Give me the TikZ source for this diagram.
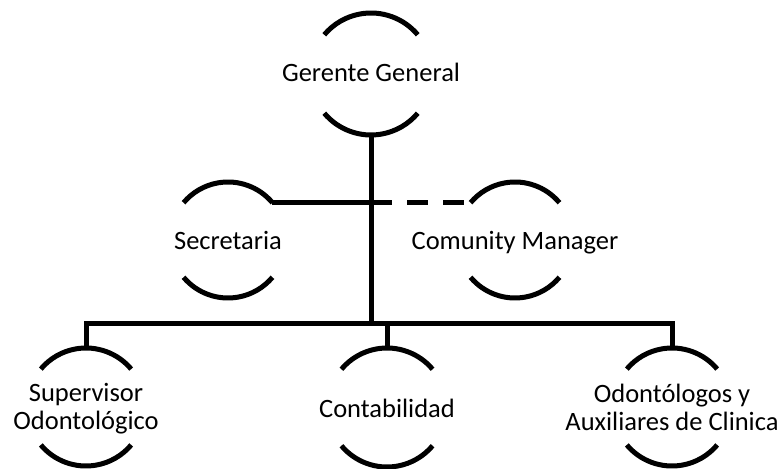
\documentclass[tikz,border=0pt]{standalone}
\usepackage{fontspec}
\setmainfont{Carlito}
\begin{document}
\begin{tikzpicture}[x=1pt,y=1pt,
  ring/.style={circle, draw=none, inner sep=0pt, outer sep=0pt, minimum size=#1},
  lbl/.style={font=\fontsize{26.5}{28}\selectfont, align=center, inner sep=0pt, anchor=base},
  conn/.style={line width=5pt, line join=miter, black},
  arcline/.style={line width=5pt, black}]
\useasboundingbox (0,0) rectangle (783,468);
% rings
\node[ring=122pt] (g)   at (371,394) {};
\node[ring=116pt] (s)   at (228,228) {};
\node[ring=116pt] (cm)  at (515,228) {};
\node[ring=118pt] (sup) at (86,61) {};
\node[ring=119pt] (con) at (387,60.5) {};
\node[ring=118pt] (od)  at (672,61) {};
% arcs
\foreach \n/\r in {g/61, s/58, cm/58, sup/59, con/59.5, od/59}{
  \draw[arcline] (\n.40) arc[start angle=40, end angle=140, radius=\r pt];
  \draw[arcline] (\n.220) arc[start angle=220, end angle=320, radius=\r pt];
}
% labels
\node[lbl] (tg)   at (371,386) {Gerente General};
\node[lbl] (ts)   at (228,218.5) {Secretaria};
\node[lbl] (tcm)  at (515,218.5) {Comunity Manager};
\node[lbl] (tcon) at (387,51) {Contabilidad};
\node[lbl] (tsup) at (86,38.5) {Supervisor\\Odontológico};
\node[lbl] (tod)  at (672,37.5) {Odontólogos y\\Auxiliares de Clinica};
% connectors
\coordinate (bus) at (371,144);
\coordinate (sj) at (g.south |- s.40);
\draw[conn] (g.south) -- (bus);
\draw[conn] (sup.north) -- (sup.north |- bus) -- (od.north |- bus) -- (od.north);
\draw[conn] (con.north) -- (con.north |- bus);
\draw[conn] (s.40) -- (sj);
\draw[conn, dash pattern=on 21pt off 15pt] (sj) -- (cm.140);
\end{tikzpicture}
\end{document}
